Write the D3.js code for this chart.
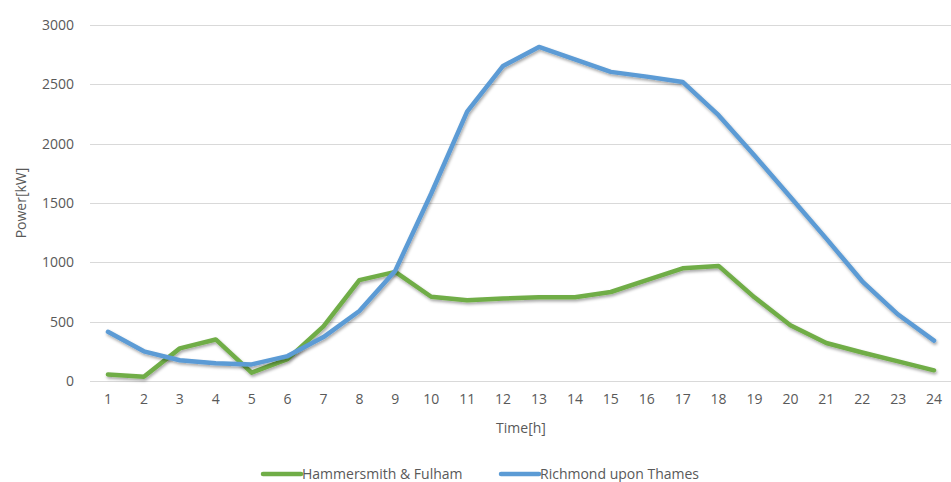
<!DOCTYPE html>
<html>
<head>
<meta charset="utf-8">
<script src="https://cdn.jsdelivr.net/npm/d3@7"></script>
<style>
  body { margin: 0; background: #fff; }
  text { font-family: "Open Sans", sans-serif; fill: #595959; }
</style>
</head>
<body>
<svg id="chart" width="951" height="482"></svg>
<script>
var hours = d3.range(1, 25);
var hammersmith = [55, 35, 275, 350, 70, 185, 460, 850, 920, 710, 680, 695, 705, 705, 750, 850, 950, 970, 705, 470, 320, 240, 165, 90];
var richmond = [415, 250, 175, 150, 140, 210, 370, 590, 930, 1580, 2270, 2655, 2815, 2710, 2605, 2565, 2520, 2240, 1900, 1550, 1200, 840, 560, 340];
var yTicks = [0, 500, 1000, 1500, 2000, 2500, 3000];
var seriesNames = ["Hammersmith & Fulham", "Richmond upon Thames"];
var colors = ["#70ad47", "#5b9bd5"];

var svg = d3.select('#chart');
var plotLeft = 90, plotRight = 952, plotTop = 25, plotBottom = 381;
var fontSize = '14px';

var x = d3.scaleBand().domain(hours).range([plotLeft, plotRight]);
var y = d3.scaleLinear().domain([0, 3000]).range([plotBottom, plotTop]);

var defs = svg.append('defs');
defs.append('filter').attr('id', 'shadow').attr('x', '-5%').attr('y', '-5%').attr('width', '110%').attr('height', '120%')
  .append('feDropShadow').attr('dx', 1).attr('dy', 2).attr('stdDeviation', 1.5)
  .attr('flood-color', '#000').attr('flood-opacity', 0.35);

// grid
svg.append('g').selectAll('line').data(yTicks).enter().append('line')
  .attr('x1', plotLeft).attr('x2', plotRight)
  .attr('y1', function(d) { return Math.round(y(d)) + 0.5; }).attr('y2', function(d) { return Math.round(y(d)) + 0.5; })
  .attr('stroke', '#d9d9d9').attr('stroke-width', 1);

var yAxis = svg.append('g').attr('transform', 'translate(' + (plotLeft - 16) + ',0)')
  .call(d3.axisLeft(y).tickValues(yTicks).tickFormat(d3.format('d')).tickSize(0).tickPadding(0));
yAxis.select('.domain').remove();
yAxis.selectAll('text').style('font-size', fontSize).attr('fill', '#595959').style('font-family', '"Open Sans", sans-serif');

var xAxis = svg.append('g').attr('transform', 'translate(0,' + (plotBottom + 13) + ')')
  .call(d3.axisBottom(x).tickSize(0).tickPadding(0));
xAxis.select('.domain').remove();
xAxis.selectAll('text').style('font-size', fontSize).attr('fill', '#595959').style('font-family', '"Open Sans", sans-serif');

svg.append('text').attr('x', 521).attr('y', 433).attr('text-anchor', 'middle')
  .style('font-size', fontSize).text('Time[h]');
svg.append('text').attr('transform', 'translate(26,203) rotate(-90)').attr('text-anchor', 'middle')
  .style('font-size', fontSize).text('Power[kW]');

var line = d3.line()
  .x(function(d, i) { return x(hours[i]) + x.bandwidth() / 2; })
  .y(function(d) { return y(d); });

[hammersmith, richmond].forEach(function(s, i) {
  svg.append('path').datum(s).attr('d', line)
    .attr('fill', 'none').attr('stroke', colors[i]).attr('stroke-width', 4.5)
    .attr('stroke-linejoin', 'round').attr('stroke-linecap', 'round')
    .attr('filter', 'url(#shadow)');
});

// legend
var legendX = [263, 501];
seriesNames.forEach(function(name, i) {
  var g = svg.append('g').attr('transform', 'translate(' + legendX[i] + ',474)');
  g.append('line').attr('x1', 0).attr('x2', 38).attr('y1', 0).attr('y2', 0)
    .attr('stroke', colors[i]).attr('stroke-width', 4.5).attr('stroke-linecap', 'round');
  g.append('text').attr('x', 39).attr('y', 5).style('font-size', fontSize).text(name);
});
</script>
</body>
</html>
